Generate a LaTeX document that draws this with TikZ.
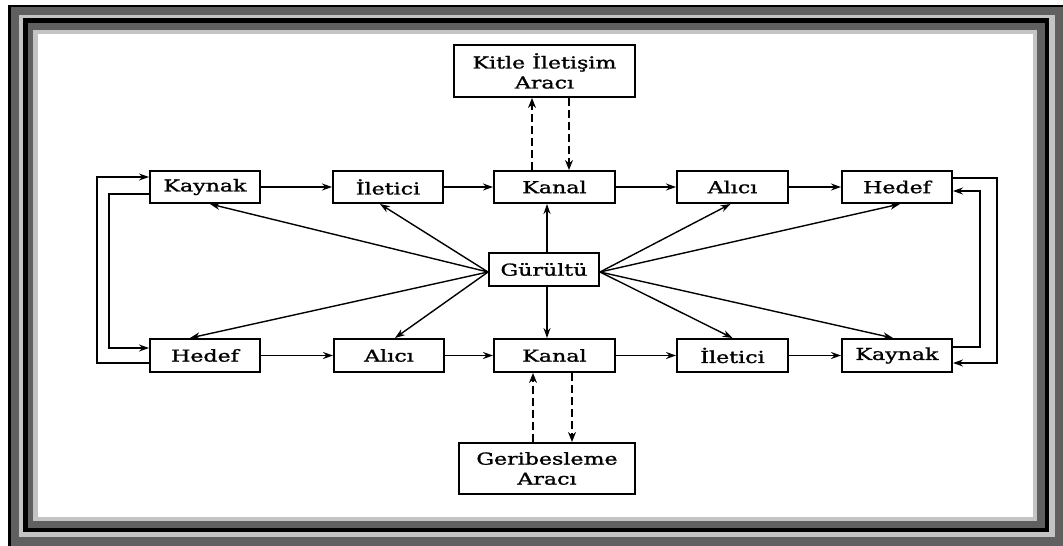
\documentclass[tikz,border=0pt]{standalone}
\usepackage{fontspec}
\usepackage{graphicx}
\setmainfont{DejaVu Serif}
\newfontfamily\boxfont[BoldFont={DejaVu Serif}, BoldFeatures={FakeBold=1.2}]{DejaVu Serif}
\usetikzlibrary{arrows.meta}
\definecolor{framedark}{HTML}{606060}
\definecolor{framelight}{HTML}{C4C4C4}
% wide type: the lettering is stretched sideways
\newcommand\widetxt[1]{\scalebox{1.34}[1]{#1}}
\tikzset{
  box/.style={draw, line width=2pt, fill=white, inner sep=0pt,
    minimum width=110pt, minimum height=32pt,
    font=\boxfont\bfseries\fontsize{16.5}{20}\selectfont, align=center},
  flow/.style={line width=1.4pt, -{Stealth[length=10pt,width=7pt]}},
  loop/.style={line width=1.4pt, -{Stealth[length=10pt,width=7pt]}},
  medium/.style={line width=2pt, dash pattern=on 8pt off 4pt,
    -{Stealth[length=10pt,width=8pt]}},
}
\begin{document}
\begin{tikzpicture}[x=1pt,y=-1pt]
\useasboundingbox (0,0) rectangle (1063,546);
% layered picture frame
\fill[black]      (8,5)   rectangle (1063,546);
\fill[framedark]  (11,7)  rectangle (1063,546);
\fill[framelight] (19,15) rectangle (1055,537);
\fill[black]      (23,18) rectangle (1049,532);
\fill[framedark]  (28,23) rectangle (1045,528);
\fill[framelight] (33,30) rectangle (1037,521);
\fill[white]      (38,34) rectangle (1033,517);

% upper row
\node[box] (kaynakT) at (205,187)   {\widetxt{Kaynak}};
\node[box] (iletT)   at (388,187)   {\widetxt{İletici}};
\node[box, minimum width=121pt] (kanalT) at (554.5,187) {\widetxt{Kanal}};
\node[box, minimum width=111pt] (aliciT) at (732.5,187) {\widetxt{Alıcı}};
\node[box] (hedefT)  at (897,187)   {\widetxt{Hedef}};
% noise in the middle
\node[box, minimum height=33pt] (gur) at (544,269.5) {\widetxt{Gürültü}};
% lower row
\node[box, minimum height=33pt] (hedefB)  at (205,355.5) {\widetxt{Hedef}};
\node[box, minimum height=33pt] (aliciB)  at (389,355.5) {\widetxt{Alıcı}};
\node[box, minimum height=33pt, minimum width=121pt] (kanalB) at (554.5,355.5) {\widetxt{Kanal}};
\node[box, minimum height=33pt, minimum width=111pt] (iletB) at (732.5,355.5) {\widetxt{İletici}};
\node[box, minimum height=33pt] (kaynakB) at (897,355.5) {\widetxt{Kaynak}};
% media boxes
\node[box, minimum width=181pt, minimum height=52pt] (kitle) at (544.5,71)
  {\widetxt{Kitle İletişim}\\\widetxt{Aracı}};
\node[box, minimum width=176pt, minimum height=51pt] (geri) at (547,468.5)
  {\widetxt{Geribesleme}\\\widetxt{Aracı}};

% chains
\draw[flow] (kaynakT) -- (iletT);
\draw[flow] (iletT) -- (kanalT);
\draw[flow] (kanalT) -- (aliciT);
\draw[flow] (aliciT) -- (hedefT);
\draw[flow] (hedefB) -- (aliciB);
\draw[flow] (aliciB) -- (kanalB);
\draw[flow] (kanalB) -- (iletB);
\draw[flow] (iletB) -- (kaynakB);

% noise fan
\coordinate (gl) at ([yshift=-2.5pt]gur.west);
\coordinate (gr) at ([yshift=-2.5pt]gur.east);
\draw[flow] (gl) -- ([xshift=5pt]kaynakT.south);
\draw[flow] (gl) -- ([xshift=-8pt]iletT.south);
\draw[flow] (gl) -- ([xshift=-15pt]hedefB.north);
\draw[flow] (gl) -- ([xshift=6pt]aliciB.north);
\draw[flow] (gr) -- ([xshift=-2pt]aliciT.south);
\draw[flow] (gr) -- ([xshift=3pt]hedefT.south);
\draw[flow] (gr) -- ([xshift=0pt]iletB.north);
\draw[flow] (gr) -- ([xshift=-4pt]kaynakB.north);
\draw[flow] ([xshift=3pt]gur.north) -- ([xshift=3pt]gur.north |- kanalT.south);
\draw[flow] ([xshift=3pt]gur.south) -- ([xshift=3pt]gur.south |- kanalB.north);

% dashed links to the media
\draw[medium] ([xshift=-22.5pt]kanalT.north) -- ([xshift=-22.5pt]kanalT.north |- kitle.south);
\draw[medium] ([xshift=14.5pt]kanalT.north |- kitle.south) -- ([xshift=14.5pt]kanalT.north);
\draw[medium] ([xshift=-21.5pt]kanalB.south |- geri.north) -- ([xshift=-21.5pt]kanalB.south);
\draw[medium] ([xshift=17.5pt]kanalB.south) -- ([xshift=17.5pt]kanalB.south |- geri.north);

% left return loops
\draw[loop] ([yshift=-7.5pt]hedefB.west) -| (97,177) -- ([yshift=10pt]kaynakT.west);
\draw[loop] ([yshift=-7pt]kaynakT.west) -| (109,348) -- ([yshift=7.5pt]hedefB.west);
% right return loops
\draw[loop] ([yshift=9pt]hedefT.east) -| (997,363) -- ([yshift=-7.5pt]kaynakB.east);
\draw[loop] ([yshift=8.5pt]kaynakB.east) -| (980,191) -- ([yshift=-4pt]hedefT.east);
\end{tikzpicture}
\end{document}
